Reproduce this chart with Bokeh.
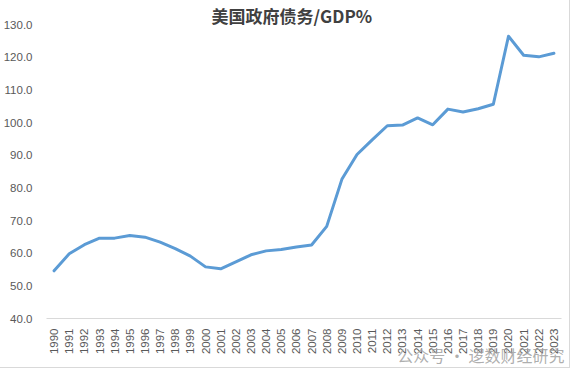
from bokeh.plotting import figure
from bokeh.models import FixedTicker, NumeralTickFormatter, Range1d, Title
from bokeh.embed import file_html
from bokeh.resources import INLINE
import math

years = list(range(1990, 2024))
debt_gdp = [54.6, 59.8, 62.6, 64.6, 64.6, 65.4, 64.9, 63.4, 61.4, 59.1,
            55.8, 55.2, 57.3, 59.5, 60.7, 61.1, 61.9, 62.5, 68.2, 82.6,
            90.2, 94.7, 99.0, 99.2, 101.4, 99.3, 104.1, 103.2, 104.2, 105.6,
            126.4, 120.6, 120.1, 121.2]
y_ticks = [40, 50, 60, 70, 80, 90, 100, 110, 120, 130]
title_text = "美国政府债务/GDP%"
watermark = "公众号 · 逻数财经研究"

p = figure(width=569, height=367, output_backend="svg", toolbar_location=None,
           x_range=Range1d(1989.5, 2023.5), y_range=Range1d(40, 130),
           min_border_left=37, min_border_right=8, min_border_top=24, min_border_bottom=49)
p.outline_line_color = None
p.background_fill_color = "white"
p.border_fill_color = "white"
p.styles = {"outline": "1px solid #d9d9d9"}

p.title.text = title_text
p.title.align = "left"
p.title.offset = 165
p.title.standoff = -6
p.title.text_font = "Noto Sans CJK SC"
p.title.text_font_style = "bold"
p.title.text_font_size = "17px"
p.title.text_color = "#404040"

p.line(years, debt_gdp, line_color="#5b9bd5", line_width=3, line_join="round", line_cap="round")

p.xgrid.visible = False
p.ygrid.visible = False

p.xaxis.ticker = FixedTicker(ticks=years)
p.xaxis.major_label_overrides = {y: str(y) for y in years}
p.xaxis.major_label_orientation = math.pi / 2
p.xaxis.axis_line_color = "#d9d9d9"
p.xaxis.major_tick_line_color = None
p.xaxis.minor_tick_line_color = None
p.xaxis.major_label_text_color = "#595959"
p.xaxis.major_label_text_font = "Liberation Sans"
p.xaxis.major_label_text_font_size = "11.5px"
p.xaxis.major_label_standoff = 4

p.yaxis.ticker = FixedTicker(ticks=y_ticks)
p.yaxis.formatter = NumeralTickFormatter(format="0.0")
p.yaxis.axis_line_color = None
p.yaxis.major_tick_line_color = None
p.yaxis.minor_tick_line_color = None
p.yaxis.major_label_text_color = "#595959"
p.yaxis.major_label_text_font = "Liberation Sans"
p.yaxis.major_label_text_font_size = "11.5px"
p.yaxis.major_label_standoff = 8

wm = Title(text=watermark, align="right", offset=-3, standoff=-30, vertical_align="top",
           text_font="Noto Sans CJK SC", text_font_style="normal",
           text_font_size="16px", text_color="#a0a0a0", text_alpha=0.85)
p.add_layout(wm, "below")

open("out.html", "w").write(file_html(p, INLINE))
